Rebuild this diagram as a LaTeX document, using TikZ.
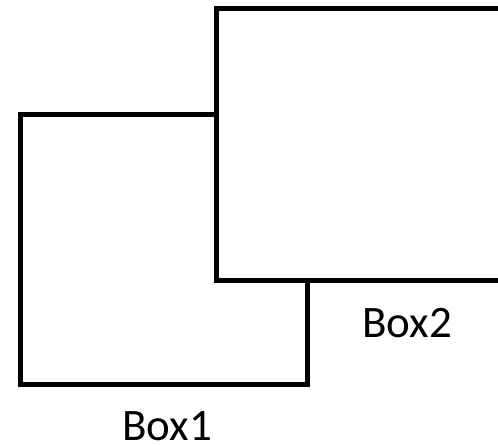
\documentclass[tikz,border=0pt]{standalone}
\usepackage{fontspec}
\setmainfont{Carlito}
\begin{document}
\begin{tikzpicture}[x=1pt,y=1pt,line width=5pt]
                \clip (0,0) rectangle (498,446);
                \coordinate (A1) at (20,331);
                \coordinate (B1) at (307,61);
                \coordinate (A2) at (216,437.5);
                \coordinate (B2) at (515,165.5);
                \draw (A1) rectangle (B1);
                \draw[fill=white] (A2) rectangle (B2);
                \node[anchor=base west,inner sep=0pt,font=\fontsize{45}{54}\selectfont] (L1) at (120,5.5) {Box1};
                \node[anchor=base west,inner sep=0pt,font=\fontsize{45}{54}\selectfont] (L2) at (360,108) {Box2};
            \end{tikzpicture}
\end{document}
